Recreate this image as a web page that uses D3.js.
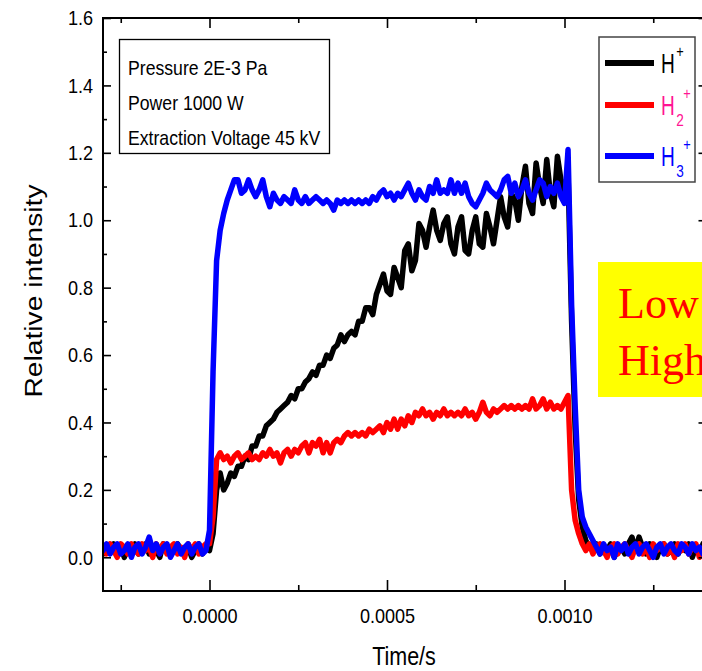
<!DOCTYPE html>
<html>
<head>
<meta charset="utf-8">
<script src="https://cdn.jsdelivr.net/npm/d3@7"></script>
<style>
  body { margin: 0; background: #fff; }
  svg { display: block; }
  text { font-family: "Liberation Sans", Arial, sans-serif; }
</style>
</head>
<body>
<svg id="chart" width="702" height="671"></svg>
<script>
// Sampling grid of the scope traces (seconds)
const timeStart = -0.0003;
const timeStep = 0.00001;

// H+ (black)
const hPlus = [
  0.01,0.03,0.02,0.04,0.01,0.03,0.00,0.03,0.02,0.04,
  0.01,0.02,0.04,0.01,0.03,0.02,0.00,0.04,0.02,0.01,
  0.03,0.04,0.02,0.01,0.03,0.00,0.02,0.04,0.01,0.03,
  0.02,0.07,0.20,0.25,0.20,0.22,0.25,0.24,0.27,0.27,
  0.30,0.29,0.33,0.33,0.36,0.36,0.39,0.40,0.41,0.43,
  0.44,0.45,0.46,0.48,0.47,0.50,0.50,0.52,0.53,0.55,
  0.54,0.57,0.57,0.60,0.59,0.62,0.63,0.66,0.64,0.66,
  0.67,0.66,0.70,0.70,0.74,0.74,0.72,0.78,0.81,0.84,
  0.79,0.78,0.86,0.83,0.80,0.91,0.93,0.85,0.88,0.99,
  0.97,0.92,0.98,1.03,0.97,0.94,0.99,1.01,0.93,0.90,
  0.98,1.01,0.91,0.90,0.97,1.01,0.93,0.92,1.02,0.98,
  0.93,1.00,1.07,1.01,0.98,1.08,1.06,1.00,1.10,1.16,
  1.05,1.02,1.17,1.10,1.05,1.18,1.08,1.04,1.19,1.12,
  1.07,1.14,0.70,0.38,0.17,0.09,0.05,0.03,0.02,0.04,
  0.01,0.03,0.02,0.04,0.00,0.02,0.03,0.01,0.04,0.06,
  0.02,0.06,0.03,0.01,0.04,0.02,0.00,0.03,0.04,0.01,
  0.02,0.04,0.01,0.03,0.02,0.04,0.00,0.03,0.01,0.04
];

// H2+ (red)
const h2Plus = [
  0.03,0.01,0.04,0.02,0.00,0.04,0.03,0.01,0.04,0.02,
  0.01,0.04,0.02,0.03,0.00,0.04,0.02,0.04,0.01,0.03,
  0.04,0.01,0.03,0.00,0.04,0.02,0.04,0.01,0.03,0.04,
  0.04,0.12,0.29,0.31,0.29,0.30,0.28,0.30,0.31,0.29,
  0.30,0.31,0.29,0.30,0.29,0.31,0.30,0.32,0.30,0.31,
  0.28,0.31,0.32,0.30,0.32,0.31,0.33,0.34,0.31,0.34,
  0.33,0.35,0.31,0.34,0.31,0.34,0.35,0.34,0.36,0.37,
  0.36,0.37,0.36,0.37,0.36,0.38,0.37,0.38,0.39,0.37,
  0.40,0.38,0.41,0.38,0.41,0.39,0.42,0.40,0.43,0.42,
  0.44,0.42,0.43,0.41,0.43,0.42,0.44,0.42,0.43,0.42,
  0.43,0.42,0.44,0.42,0.43,0.41,0.43,0.46,0.43,0.42,
  0.44,0.43,0.44,0.45,0.44,0.45,0.44,0.45,0.44,0.45,
  0.44,0.47,0.44,0.45,0.47,0.44,0.46,0.44,0.45,0.44,
  0.46,0.48,0.20,0.11,0.07,0.04,0.02,0.04,0.01,0.03,
  0.04,0.02,0.00,0.03,0.04,0.01,0.03,0.04,0.02,0.00,
  0.03,0.04,0.01,0.03,0.00,0.04,0.02,0.03,0.04,0.01,
  0.03,0.00,0.04,0.02,0.04,0.01,0.03,0.04,0.00,0.02
];

// H3+ (blue)
const h3Plus = [
  0.02,0.04,0.01,0.03,0.04,0.01,0.02,0.04,0.00,0.03,
  0.04,0.01,0.03,0.06,0.02,0.04,0.01,0.03,0.04,0.00,
  0.02,0.04,0.01,0.03,0.04,0.01,0.03,0.04,0.01,0.02,
  0.08,0.55,0.88,0.97,1.02,1.06,1.09,1.12,1.12,1.08,
  1.09,1.12,1.09,1.07,1.09,1.12,1.07,1.04,1.08,1.06,
  1.05,1.07,1.06,1.05,1.09,1.06,1.05,1.07,1.05,1.06,
  1.07,1.06,1.05,1.06,1.05,1.03,1.06,1.05,1.06,1.05,
  1.06,1.05,1.06,1.05,1.06,1.05,1.07,1.06,1.08,1.09,
  1.07,1.08,1.06,1.08,1.07,1.09,1.11,1.08,1.06,1.09,
  1.07,1.06,1.10,1.08,1.12,1.08,1.09,1.08,1.12,1.08,
  1.11,1.08,1.11,1.07,1.05,1.04,1.06,1.08,1.11,1.09,
  1.08,1.07,1.09,1.12,1.13,1.08,1.11,1.07,1.09,1.12,
  1.08,1.06,1.09,1.12,1.11,1.07,1.10,1.08,1.11,1.07,
  1.05,1.21,0.75,0.45,0.20,0.12,0.09,0.07,0.05,0.03,
  0.01,0.04,0.02,0.03,0.00,0.04,0.02,0.04,0.01,0.03,
  0.04,0.01,0.03,0.04,0.02,0.00,0.03,0.04,0.01,0.03,
  0.04,0.02,0.01,0.04,0.03,0.01,0.04,0.02,0.03,0.01
];

const xMajorTicks = [0, 0.0005, 0.001];
const xMinorTicks = [-0.00025, 0.00025, 0.00075, 0.00125];
const yMajorTicks = [0, 0.2, 0.4, 0.6, 0.8, 1.0, 1.2, 1.4, 1.6];
const yMinorTicks = [0.1, 0.3, 0.5, 0.7, 0.9, 1.1, 1.3, 1.5];

const seriesNames = ['H', 'H', 'H'];
const seriesSubs = ['', '2', '3'];
const lineColors = ['#000000', '#ff0000', '#0000ff'];
const labelColors = ['#000000', '#ff1493', '#0000ff'];

const infoLines = ['Pressure 2E-3 Pa', 'Power 1000 W', 'Extraction Voltage 45 kV'];
const noteLines = ['Low', 'High'];

const svg = d3.select('#chart');
const plotLeft = 103, plotRight = 706.5, plotTop = 18, plotBottom = 591;

// The original uses a condensed sans; squeeze the glyphs to match
function squeeze(sel, factor) {
  sel.each(function () {
    const w = this.getComputedTextLength();
    d3.select(this)
      .attr('textLength', w * factor)
      .attr('lengthAdjust', 'spacingAndGlyphs');
  });
}

svg.append('rect').attr('width', 702).attr('height', 671).attr('fill', '#fff');

const x = d3.scaleLinear().domain([-0.0003, 0.0014]).range([plotLeft, plotRight]);
const y = d3.scaleLinear().domain([-0.1, 1.6]).range([plotBottom, plotTop]);

svg.append('defs').append('clipPath').attr('id', 'plotClip')
  .append('rect')
  .attr('x', plotLeft).attr('y', plotTop)
  .attr('width', plotRight - plotLeft).attr('height', plotBottom - plotTop);

// Traces, black first so blue sits on top
const line = d3.line()
  .x((d, i) => x(timeStart + i * timeStep))
  .y(d => y(d));

const traces = svg.append('g').attr('clip-path', 'url(#plotClip)');
[hPlus, h2Plus, h3Plus].forEach((values, k) => {
  traces.append('path')
    .datum(values)
    .attr('d', line)
    .attr('fill', 'none')
    .attr('stroke', lineColors[k])
    .attr('stroke-width', 5.5)
    .attr('stroke-linejoin', 'round')
    .attr('stroke-linecap', 'round');
});

// Axes: ticks point inward on all four sides
function styleAxis(g) {
  g.select('.domain').remove();
  g.selectAll('.tick line').attr('stroke', '#000').attr('stroke-width', 1.6);
  g.selectAll('.tick text')
    .attr('fill', '#000')
    .style('font-family', '"Liberation Sans", Arial, sans-serif')
    .style('font-size', '21px')
    .call(squeeze, 0.86);
}

svg.append('g').attr('transform', `translate(0,${plotBottom})`)
  .call(d3.axisBottom(x).tickValues(xMajorTicks).tickSize(-11).tickPadding(17)
    .tickFormat(d3.format('.4f')))
  .call(styleAxis);
svg.append('g').attr('transform', `translate(0,${plotBottom})`)
  .call(d3.axisBottom(x).tickValues(xMinorTicks).tickSize(-6).tickFormat(''))
  .call(styleAxis);
svg.append('g').attr('transform', `translate(0,${plotTop})`)
  .call(d3.axisTop(x).tickValues(xMajorTicks).tickSize(-10).tickFormat(''))
  .call(styleAxis);
svg.append('g').attr('transform', `translate(0,${plotTop})`)
  .call(d3.axisTop(x).tickValues(xMinorTicks).tickSize(-5).tickFormat(''))
  .call(styleAxis);

svg.append('g').attr('transform', `translate(${plotLeft},0)`)
  .call(d3.axisLeft(y).tickValues(yMajorTicks).tickSize(-8).tickPadding(10)
    .tickFormat(d3.format('.1f')))
  .call(styleAxis);
svg.append('g').attr('transform', `translate(${plotLeft},0)`)
  .call(d3.axisLeft(y).tickValues(yMinorTicks).tickSize(-4).tickFormat(''))
  .call(styleAxis);
svg.append('g').attr('transform', `translate(${plotRight},0)`)
  .call(d3.axisRight(y).tickValues(yMajorTicks).tickSize(-8).tickFormat(''))
  .call(styleAxis);
svg.append('g').attr('transform', `translate(${plotRight},0)`)
  .call(d3.axisRight(y).tickValues(yMinorTicks).tickSize(-4).tickFormat(''))
  .call(styleAxis);

// Frame
svg.append('rect')
  .attr('x', plotLeft).attr('y', plotTop)
  .attr('width', plotRight - plotLeft).attr('height', plotBottom - plotTop)
  .attr('fill', 'none').attr('stroke', '#000').attr('stroke-width', 2);

// Axis titles
svg.append('text')
  .attr('transform', 'translate(42,291) rotate(-90)')
  .attr('text-anchor', 'middle')
  .attr('textLength', 213)
  .attr('lengthAdjust', 'spacingAndGlyphs')
  .style('font-size', '23px')
  .text('Relative intensity');

svg.append('text')
  .attr('x', 404).attr('y', 665)
  .attr('text-anchor', 'middle')
  .style('font-size', '25px')
  .text('Time/s')
  .call(squeeze, 0.86);

// Conditions box
svg.append('rect')
  .attr('x', 119.5).attr('y', 39.5).attr('width', 210).attr('height', 114)
  .attr('fill', '#fff').attr('stroke', '#000').attr('stroke-width', 1.3);
infoLines.forEach((t, i) => {
  svg.append('text')
    .attr('x', 128).attr('y', 75 + i * 35)
    .style('font-size', '21px')
    .text(t)
    .call(squeeze, 0.84);
});

// Legend
svg.append('rect')
  .attr('x', 599).attr('y', 37).attr('width', 96).attr('height', 145)
  .attr('fill', '#fff').attr('stroke', '#444').attr('stroke-width', 1.5);
const legendY = [63, 105, 156];
seriesNames.forEach((name, k) => {
  const ly = legendY[k];
  svg.append('line')
    .attr('x1', 605).attr('x2', 654).attr('y1', ly).attr('y2', ly)
    .attr('stroke', lineColors[k]).attr('stroke-width', 6);
  svg.append('text')
    .attr('x', 661).attr('y', ly + 10)
    .attr('fill', labelColors[k])
    .style('font-size', '28px')
    .text(name)
    .call(squeeze, 0.68);
  if (seriesSubs[k]) {
    svg.append('text')
      .attr('x', 680).attr('y', ly + 21)
      .attr('text-anchor', 'middle')
      .attr('fill', labelColors[k])
      .style('font-size', '17px')
      .text(seriesSubs[k])
      .call(squeeze, 0.8);
  }
  svg.append('text')
    .attr('x', seriesSubs[k] ? 687 : 680).attr('y', ly - 6)
    .attr('text-anchor', 'middle')
    .attr('fill', labelColors[k])
    .style('font-size', '16px')
    .text('+')
    .call(squeeze, 0.8);
});

// Yellow note, cut by the right edge
svg.append('rect')
  .attr('x', 598).attr('y', 262).attr('width', 120).attr('height', 135)
  .attr('fill', '#ffff00');
noteLines.forEach((t, i) => {
  svg.append('text')
    .attr('x', 618).attr('y', 318 + i * 57)
    .attr('fill', '#ff0000')
    .style('font-family', '"Liberation Serif", "Times New Roman", serif')
    .style('font-size', '44px')
    .text(t);
});
</script>
</body>
</html>
